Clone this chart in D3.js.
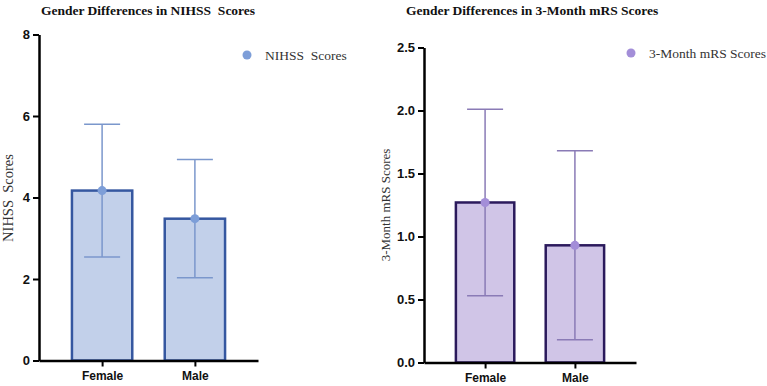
<!DOCTYPE html>
<html>
<head>
<meta charset="utf-8">
<script src="https://cdn.jsdelivr.net/npm/d3@7"></script>
<style>
  body { margin: 0; background: #fff; }
  svg { display: block; }
  .tick text { font-family: "Liberation Sans", Arial, sans-serif; font-weight: bold; font-size: 12px; fill: #111; }
  .yax .tick text { font-size: 13px; }
</style>
</head>
<body>
<div id="chart"></div>
<script>
// data
const groups = ["Female", "Male"];
const nihssMean = [4.17, 3.48];
const nihssSd = [1.63, 1.45];
const mrsMean = [1.27, 0.93];
const mrsSd = [0.74, 0.75];
const nihssTicks = [0, 2, 4, 6, 8];
const mrsTicks = [0, 0.5, 1.0, 1.5, 2.0, 2.5];

const svg = d3.select("#chart").append("svg")
    .attr("width", 767)
    .attr("height", 386);

function drawPanel(opt) {
    let g = svg.append("g");

    let x = d3.scalePoint()
        .domain(groups)
        .range([opt.x0, opt.x1])
        .padding(0.68);

    let y = d3.scaleLinear()
        .domain([0, opt.max])
        .range([opt.yBottom, opt.yTop]);

    let bw = x.step() * 0.65;

    // bars
    g.selectAll(".bar")
        .data(groups)
        .enter().append("rect")
        .attr("x", d => x(d) - bw / 2)
        .attr("y", (d, i) => y(opt.mean[i]))
        .attr("width", bw)
        .attr("height", (d, i) => y(0) - y(opt.mean[i]))
        .style("fill", opt.fill)
        .style("stroke", opt.stroke)
        .style("stroke-width", 2.5);

    // error bars
    let cap = 18;
    groups.forEach(function(d, i) {
        let hi = y(opt.mean[i] + opt.sd[i]);
        let lo = y(opt.mean[i] - opt.sd[i]);
        g.append("line").attr("x1", x(d)).attr("x2", x(d)).attr("y1", hi).attr("y2", lo)
            .style("stroke", opt.err).style("stroke-width", 1.5);
        [hi, lo].forEach(function(v) {
            g.append("line").attr("x1", x(d) - cap).attr("x2", x(d) + cap).attr("y1", v).attr("y2", v)
                .style("stroke", opt.err).style("stroke-width", 1.5);
        });
        g.append("circle").attr("cx", x(d)).attr("cy", y(opt.mean[i])).attr("r", 4.5)
            .style("fill", opt.dot);
    });

    // axes
    let yAxis = g.append("g")
        .attr("class", "yax")
        .attr("transform", "translate(" + opt.x0 + ",0)")
        .call(d3.axisLeft(y).tickValues(opt.ticks).tickSize(6).tickSizeOuter(0).tickFormat(opt.fmt));
    yAxis.select(".domain").style("stroke", "#000").style("stroke-width", 2.5);
    yAxis.selectAll(".tick line").style("stroke", "#000").style("stroke-width", 2);
    yAxis.selectAll(".tick text").attr("x", -9);

    let xAxis = g.append("g")
        .attr("transform", "translate(0," + y(0) + ")")
        .call(d3.axisBottom(x).tickSize(6).tickSizeOuter(0));
    xAxis.select(".domain").style("stroke", "#000").style("stroke-width", 2.5);
    xAxis.selectAll(".tick line").style("stroke", "#000").style("stroke-width", 2);
    xAxis.selectAll(".tick text").attr("y", 11);

    // title
    g.append("text")
        .attr("x", opt.titleX)
        .attr("y", 15)
        .style("font-family", "Liberation Serif, Times New Roman, serif")
        .style("font-weight", "bold")
        .style("font-size", "13.5px")
        .style("white-space", "pre")
        .style("fill", "#111")
        .text(opt.title);

    // y label
    g.append("text")
        .attr("transform", "translate(" + opt.labelX + "," + opt.labelY + ") rotate(-90)")
        .attr("text-anchor", "middle")
        .style("font-family", "Liberation Serif, Times New Roman, serif")
        .style("font-size", opt.labelSize)
        .style("white-space", "pre")
        .style("fill", "#333")
        .text(opt.label);

    // legend
    g.append("circle").attr("cx", opt.legX).attr("cy", opt.legY).attr("r", 4.5).style("fill", opt.dot);
    g.append("text")
        .attr("x", opt.legX + 18)
        .attr("y", opt.legY + 5)
        .style("font-family", "Liberation Serif, Times New Roman, serif")
        .style("font-size", "13.5px")
        .style("white-space", "pre")
        .style("fill", "#333")
        .text(opt.label);
}

drawPanel({
    x0: 39, x1: 258, yBottom: 360.5, yTop: 34.5, max: 8,
    mean: nihssMean, sd: nihssSd, ticks: nihssTicks, fmt: d3.format("d"),
    fill: "#c2d0ea", stroke: "#3557a0", err: "#7b97cc", dot: "#7d9ed8",
    title: "Gender Differences in NIHSS  Scores", titleX: 41,
    label: "NIHSS  Scores", labelX: 13, labelY: 198, labelSize: "14.5px",
    legX: 247, legY: 55
});

drawPanel({
    x0: 424, x1: 636, yBottom: 362.5, yTop: 47.5, max: 2.5,
    mean: mrsMean, sd: mrsSd, ticks: mrsTicks, fmt: d3.format(".1f"),
    fill: "#d0c5e7", stroke: "#2b1a5c", err: "#8a7bb6", dot: "#a38ed8",
    title: "Gender Differences in 3-Month mRS Scores", titleX: 406,
    label: "3-Month mRS Scores", labelX: 390, labelY: 205, labelSize: "13px",
    legX: 631, legY: 53
});
</script>
</body>
</html>
